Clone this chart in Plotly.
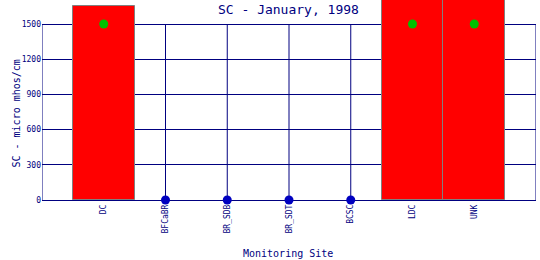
import plotly.graph_objects as go

sites = ["DC", "BFCaBR", "BR_SDB", "BR_SDT", "BCSC", "LDC", "UNK"]
bar_values = [1650, None, None, None, None, 1900, 1900]
point_sites_green = ["DC", "LDC", "UNK"]
point_values_green = [1500, 1500, 1500]
point_sites_blue = ["BFCaBR", "BR_SDB", "BR_SDT", "BCSC"]
point_values_blue = [0, 0, 0, 0]
y_ticks = [0, 300, 600, 900, 1200, 1500]

NAVY = "#000080"
FONT = "DejaVu Sans Mono"

n = len(sites)
xpos = list(range(n))

fig = go.Figure()
fig.add_trace(go.Bar(x=xpos, y=bar_values, width=1.0,
                     marker=dict(color="#FF0000", line=dict(color="#808080", width=1)),
                     showlegend=False))
fig.add_trace(go.Scatter(x=[sites.index(s) for s in point_sites_green], y=point_values_green,
                         mode="markers", marker=dict(color="#00C000", size=9),
                         showlegend=False, cliponaxis=False))
fig.add_trace(go.Scatter(x=[sites.index(s) for s in point_sites_blue], y=point_values_blue,
                         mode="markers", marker=dict(color="#0000C0", size=9),
                         showlegend=False, cliponaxis=False))

# vertical grid lines (and frame sides) limited to the tick range
for xv in [-1] + xpos + [n]:
    fig.add_shape(type="line", xref="x", yref="y", x0=xv, x1=xv, y0=y_ticks[0], y1=y_ticks[-1],
                  line=dict(color=NAVY, width=1), layer="below")

fig.update_layout(
    width=540, height=260,
    margin=dict(l=42, r=4, t=0, b=58),
    paper_bgcolor="white", plot_bgcolor="white",
    bargap=0,
    font=dict(family=FONT, color=NAVY, size=8),
    xaxis=dict(range=[-1, n], tickmode="array",
               tickvals=xpos, ticktext=sites,
               tickangle=-90, showgrid=False,
               zeroline=False, showline=False, ticks="",
               tickfont=dict(size=8, family=FONT, color=NAVY)),
    yaxis=dict(range=[-17, 1704.5], tickvals=y_ticks, showgrid=True, gridcolor=NAVY, gridwidth=1,
               zeroline=False, showline=False, ticks="",
               tickfont=dict(size=8, family=FONT, color=NAVY)),
    annotations=[
        dict(text="SC - January, 1998", xref="paper", yref="paper", x=0.498, y=0.955,
             yanchor="middle", showarrow=False, font=dict(size=13, family=FONT, color=NAVY)),
        dict(text="SC - micro mhos/cm", xref="paper", yref="paper", x=-0.067, y=0.44,
             textangle=-90, showarrow=False, font=dict(size=10, family=FONT, color=NAVY)),
        dict(text="Monitoring Site", xref="paper", yref="paper", x=0.497, y=-0.255,
             yanchor="middle", showarrow=False, font=dict(size=10, family=FONT, color=NAVY)),
    ],
)

fig.write_html("out.html")
